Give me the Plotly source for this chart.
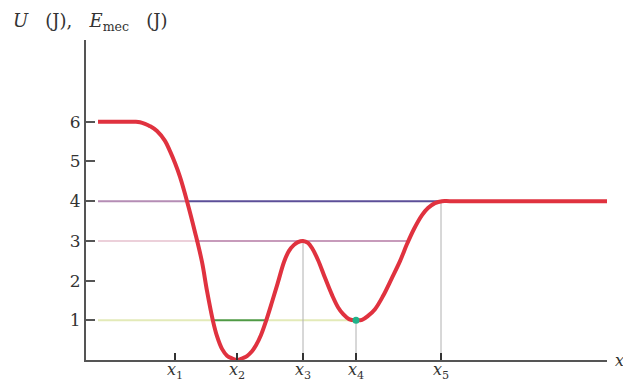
import plotly.graph_objects as go

# Potential energy curve U(x) (x in arbitrary units)
curve_x = [1.2, 3.4, 4.9, 5.4, 5.9, 6.4, 7.1, 7.9, 8.4, 8.9, 9.4, 10.1, 10.9, 11.6, 12.1,
           12.7, 13.1, 13.6, 14.1, 14.6, 15.1, 15.7, 16.1, 16.6, 17.0, 17.5, 18.0, 18.6,
           19.2, 19.8, 20.3, 20.8, 21.2, 21.7, 22.2, 22.6, 23.2, 23.9, 24.6, 25.2, 25.7,
           26.3, 27.0, 27.6, 28.2, 28.9, 29.7, 30.6, 31.4, 32.1, 32.8, 33.6, 34.2, 34.9,
           35.6, 36.4, 41.4, 52.7]
curve_y = [6.0, 6.0, 6.0, 5.99, 5.95, 5.89, 5.77, 5.52, 5.26, 4.96, 4.61, 4.0, 3.22, 2.47, 1.74,
           0.98, 0.6, 0.28, 0.11, 0.04, 0.0, 0.05, 0.1, 0.22, 0.37, 0.63, 0.98, 1.46,
           1.96, 2.47, 2.75, 2.9, 2.97, 3.0, 2.95, 2.82, 2.52, 2.07, 1.64, 1.33, 1.16,
           1.03, 1.0, 1.01, 1.11, 1.28, 1.61, 2.07, 2.49, 2.92, 3.3, 3.65, 3.83, 3.95,
           4.0, 4.0, 4.0, 4.0]

# x tick positions
tick_x = [8.9, 15.1, 21.7, 27.0, 35.5]
tick_text = ["<i>x</i><sub>1</sub>", "<i>x</i><sub>2</sub>", "<i>x</i><sub>3</sub>",
             "<i>x</i><sub>4</sub>", "<i>x</i><sub>5</sub>"]
y_ticks = [1, 2, 3, 4, 5, 6]

# Mechanical energy levels: (level, x_start, x_end, colour)
levels = [
    (4, 1.2, 10.1, "#b58db5"),
    (4, 10.1, 35.6, "#5c4f98"),
    (3, 1.2, 10.9, "#ecd0da"),
    (3, 10.9, 32.3, "#c79bbb"),
    (1, 1.2, 12.7, "#e3eab8"),
    (1, 12.7, 18.0, "#4f9a45"),
    (1, 18.0, 27.0, "#e3eab8"),
]
# Vertical guide lines: (x, top)
guides = [(21.7, 3.0), (27.0, 1.0), (35.5, 4.0)]

fig = go.Figure()
for lvl, xa, xb, col in levels:
    fig.add_trace(go.Scatter(x=[xa, xb], y=[lvl, lvl], mode="lines",
                             line=dict(color=col, width=2), hoverinfo="skip"))
for gx, gy in guides:
    fig.add_trace(go.Scatter(x=[gx, gx], y=[0, gy], mode="lines",
                             line=dict(color="#b0b0b0", width=1), hoverinfo="skip"))
fig.add_trace(go.Scatter(x=curve_x, y=curve_y, mode="lines",
                         line=dict(color="#e0323f", width=4, shape="spline", smoothing=1.0)))
fig.add_trace(go.Scatter(x=[27.0], y=[1.0], mode="markers",
                         marker=dict(color="#1fb38a", size=7)))

serif = "DejaVu Serif, Liberation Serif, serif"
fig.update_layout(
    width=623, height=381, showlegend=False,
    margin=dict(l=86, r=16, t=40, b=21),
    plot_bgcolor="white", paper_bgcolor="white",
    xaxis=dict(range=[0, 52.1], showgrid=False, zeroline=False, showline=True, automargin=False,
               linecolor="#555555", linewidth=2, ticks="inside", ticklen=7,
               tickcolor="#333333", tickwidth=1.5, tickvals=tick_x, ticktext=tick_text,
               ticklabelstandoff=-6,
               tickfont=dict(family=serif, size=16, color="#333333")),
    yaxis=dict(range=[0, 8.06], showgrid=False, zeroline=False, showline=True, automargin=False,
               linecolor="#555555", linewidth=2, ticks="inside", ticklen=9,
               tickcolor="#555555", tickwidth=2, tickvals=y_ticks,
               tickfont=dict(family=serif, size=17, color="#333333")),
    annotations=[
        dict(text="<i>U</i>&nbsp;&nbsp;&nbsp;(J),&nbsp;&nbsp;&nbsp;<i>E</i><sub>mec</sub>&nbsp;&nbsp;&nbsp;(J)",
             xref="paper", yref="paper",
             x=-75/521, y=1 + 18/320, xanchor="left", yanchor="middle", showarrow=False,
             font=dict(family=serif, size=18, color="#333333")),
        dict(text="<i>x</i>", xref="paper", yref="paper", x=1.0, xshift=6, y=0,
             xanchor="left", yanchor="middle", showarrow=False,
             font=dict(family=serif, size=16, color="#333333")),
    ],
)
fig.write_html("out.html", config={"displayModeBar": False},
               post_script="document.body.style.margin='0';document.body.style.overflow='hidden';")
